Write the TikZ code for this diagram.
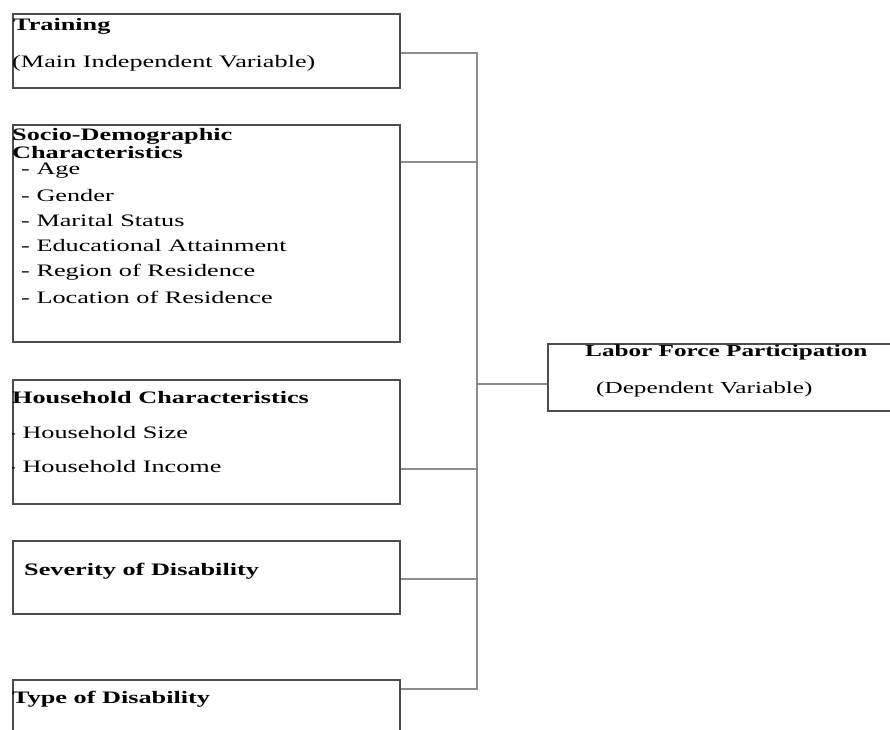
\documentclass[tikz,border=0pt]{standalone}
\usepackage{fontspec}
\setmainfont[FakeStretch=1.5]{Liberation Serif}
\usetikzlibrary{positioning}

\begin{document}
\begin{tikzpicture}[x=1pt, y=-1pt,
  box/.style={draw=black!70, line width=1.5pt, minimum width=387pt,
              inner sep=0pt, anchor=north west},
  head/.style={font=\fontsize{17.5}{17.5}\selectfont\bfseries, inner sep=0pt,
               anchor=base west},
  item/.style={font=\fontsize{17.5}{17.5}\selectfont, inner sep=0pt,
               anchor=base west},
  link/.style={draw=black!45, line width=1.3pt}
]
  \useasboundingbox (0,0) rectangle (890,729);

  % Training (main independent variable)
  \node[box, minimum height=74pt] (train) at (12,13) {};
  \node[head] (trainT) at (13,30) {Training};
  \node[item] (trainS) at (12,67) {(Main Independent Variable)};

  % Socio-demographic characteristics
  \node[box, minimum height=217pt] (socio) at (12,124) {};
  \node[head] (socioT) at (12,140) {Socio-Demographic};
  \node[head] (socioU) at (12,158) {Characteristics};
  \node[item] (age) at (21,174) {- Age};
  \node[item] (gender) at (21,201) {- Gender};
  \node[item] (marital) at (21,226) {- Marital Status};
  \node[item] (educ) at (21,251) {- Educational Attainment};
  \node[item] (region) at (21,276) {- Region of Residence};
  \node[item] (loc) at (21,303) {- Location of Residence};

  % Household characteristics
  \node[box, minimum height=124pt] (house) at (12,379) {};
  \node[head] (houseT) at (12,403) {Household Characteristics};
  \begin{scope}
    \clip (house.north west) rectangle (house.south east);
    \node[item] (hsize) at (7,438) {- Household Size};
    \node[item] (hinc) at (7,472) {- Household Income};
  \end{scope}

  % Severity of disability
  \node[box, minimum height=73pt] (sever) at (12,540) {};
  \node[head] (severT) at (24,575) {Severity of Disability};

  % Type of disability
  \node[box, minimum height=80pt] (type) at (12,679) {};
  \node[head] (typeT) at (12,703) {Type of Disability};

  % Labor force participation (dependent variable)
  \node[box, minimum width=360pt, minimum height=67pt] (labor) at (547,343) {};
  \node[head, font=\fontsize{16.8}{16.8}\selectfont\bfseries] (laborT) at (585,356) {Labor Force Participation};
  \node[item, font=\fontsize{16.8}{16.8}\selectfont] (laborS) at (596,393) {(Dependent Variable)};

  % Connectors
  \coordinate (b1) at (477,53);
  \coordinate (b2) at (477,162);
  \coordinate (b3) at (477,469);
  \coordinate (b4) at (477,579);
  \coordinate (b5) at (477,689);
  \coordinate (bm) at (477,384);
  \draw[link] (train.east |- b1) -- (b1) -- (b5) -- (type.east |- b5);
  \draw[link] (socio.east |- b2) -- (b2);
  \draw[link] (house.east |- b3) -- (b3);
  \draw[link] (sever.east |- b4) -- (b4);
  \draw[link] (bm) -- (labor.west |- bm);
\end{tikzpicture}
\end{document}
